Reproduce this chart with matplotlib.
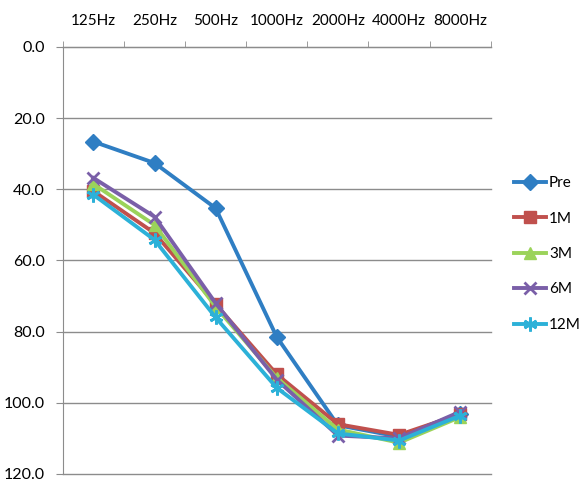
import matplotlib
matplotlib.use("Agg")
import matplotlib.pyplot as plt
from matplotlib.ticker import FixedLocator, FuncFormatter

plt.rcParams["font.family"] = ["Lato", "DejaVu Sans"]

freqs = ["125Hz", "250Hz", "500Hz", "1000Hz", "2000Hz", "4000Hz", "8000Hz"]
pre = [26.6, 32.6, 45.3, 81.5, 106.3, 109.5, 103.0]
m1 = [40.5, 52.3, 72.3, 92.0, 106.0, 109.0, 103.2]
m3 = [38.5, 50.0, 73.0, 93.0, 107.5, 111.2, 104.0]
m6 = [36.8, 47.7, 72.0, 93.5, 109.2, 110.0, 102.5]
m12 = [41.5, 54.2, 76.0, 95.8, 108.6, 110.6, 103.6]

series = [
    ("Pre", pre, "#2F7EC3", "D", 8),
    ("1M", m1, "#C0504D", "s", 8),
    ("3M", m3, "#9BD35A", "^", 9),
    ("6M", m6, "#7A5FA8", "x", 9),
    ("12M", m12, "#2CB1D8", (6, 2, 0), 10),
]

fig = plt.figure(figsize=(5.87, 4.82), dpi=100)
ax = fig.add_axes([0.107, 0.0166, 0.729, 0.8859])

x = list(range(len(freqs)))
for name, vals, color, marker, ms in series:
    ax.plot(x, vals, color=color, lw=2.8, marker=marker, markersize=ms,
            markeredgewidth=2 if marker in ("x", (6, 2, 0)) else 1,
            markeredgecolor=color, label=name)

ax.set_xlim(-0.5, len(freqs) - 0.5)
ax.set_ylim(120, 0)
ax.yaxis.set_major_locator(FixedLocator([0, 20, 40, 60, 80, 100, 120]))
ax.yaxis.set_major_formatter(FuncFormatter(lambda v, p: f"{v:.1f}"))
ax.grid(axis="y", color="#8C8C8C", lw=1)
for gl in ax.yaxis.get_gridlines():
    gl.set_clip_on(False)
ax.set_axisbelow(True)

ax.xaxis.tick_top()
ax.set_xticks(x)
ax.set_xticklabels(freqs)
ax.set_xticks([i - 0.5 for i in range(len(freqs) + 1)], minor=True)
ax.tick_params(axis="x", which="major", length=0, pad=14, labelsize=11)
ax.tick_params(axis="x", which="minor", length=4, color="#8C8C8C", direction="out")
ax.tick_params(axis="y", length=5, color="#8C8C8C", labelsize=11.5, pad=8,
               direction="out")

for side in ("right", "bottom"):
    ax.spines[side].set_visible(False)
ax.spines["left"].set_color("#8C8C8C")
ax.spines["top"].set_color("#8C8C8C")

leg = ax.legend(loc="center left", bbox_to_anchor=(1.04, 0.515), frameon=False,
                fontsize=11, handlelength=2.1, labelspacing=1.4,
                handletextpad=0.2, borderaxespad=0)

fig.savefig("out.png", dpi=100)
